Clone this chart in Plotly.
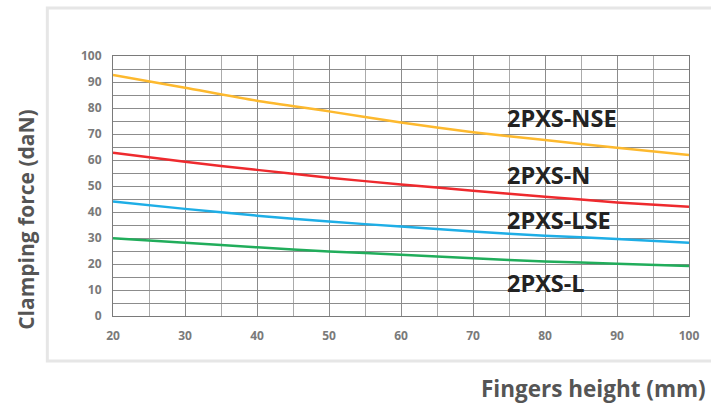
import plotly.graph_objects as go

heights = [20, 30, 40, 50, 60, 70, 80, 90, 100]
nse = [92.7, 87.8, 82.8, 78.7, 74.4, 70.7, 67.7, 64.7, 61.9]
n = [62.8, 59.3, 56.2, 53.2, 50.6, 48.2, 45.9, 43.7, 42.0]
lse = [44.0, 41.2, 38.6, 36.3, 34.4, 32.5, 30.9, 29.6, 28.2]
l = [29.9, 28.2, 26.4, 24.8, 23.6, 22.2, 21.0, 20.1, 19.2]

series_names = ["2PXS-NSE", "2PXS-N", "2PXS-LSE", "2PXS-L"]
series_values = [nse, n, lse, l]
series_colors = ["#FDB92E", "#EE2A2E", "#1EAEE6", "#21AD5B"]
label_x = [74.4, 74.4, 74.4, 74.4]
label_y = [76.2, 54.3, 36.9, 12.7]

x_ticks = [20, 30, 40, 50, 60, 70, 80, 90, 100]
y_ticks = [0, 10, 20, 30, 40, 50, 60, 70, 80, 90, 100]

fig = go.Figure()
for name, vals, col in zip(series_names, series_values, series_colors):
    fig.add_trace(go.Scatter(x=heights, y=vals, mode="lines", name=name,
                             line=dict(color=col, width=2.5, shape="spline", smoothing=0.6),
                             hoverinfo="skip"))

for name, xx, yy in zip(series_names, label_x, label_y):
    fig.add_annotation(x=xx, y=yy, text=name, showarrow=False, xanchor="left", yanchor="middle",
                       font=dict(family="Open Sans", size=23.5, color="#222222", weight="bold"))

grid_col = "#8c8c8c"
fig.update_xaxes(range=[20, 100], tickvals=x_ticks, ticktext=[str(v) for v in x_ticks],
                 showgrid=True, gridcolor=grid_col, gridwidth=1,
                 minor=dict(dtick=5, tick0=20, showgrid=True, gridcolor="#ababab", gridwidth=1),
                 showline=True, linecolor="#7a7a7a", linewidth=1, mirror=True,
                 zeroline=False, ticks="", ticklabelstandoff=9,
                 tickfont=dict(family="Open Sans", size=12, color="#7a7a7a", weight="bold"))
fig.update_yaxes(range=[0, 100], tickvals=y_ticks, ticktext=[str(v) for v in y_ticks],
                 showgrid=True, gridcolor=grid_col, gridwidth=1,
                 minor=dict(dtick=5, tick0=0, showgrid=True, gridcolor=grid_col, gridwidth=1),
                 showline=True, linecolor="#7a7a7a", linewidth=1, mirror=True,
                 zeroline=False, ticks="", ticklabelstandoff=8,
                 tickfont=dict(family="Open Sans", size=12, color="#7a7a7a", weight="bold"))

# outer light frame
fig.add_shape(type="rect", xref="paper", yref="paper", x0=-0.114, x1=1.2, y0=-0.173, y1=1.185,
              line=dict(color="#e6e6e6", width=3), fillcolor="rgba(0,0,0,0)", layer="below")

fig.add_annotation(xref="paper", yref="paper", x=-0.151, y=0.37, text="Clamping force (daN)",
                   textangle=-90, showarrow=False, xanchor="center", yanchor="middle",
                   font=dict(family="Open Sans", size=21, color="#555555", weight="bold"))
fig.add_annotation(xref="paper", yref="paper", x=1.033, y=-0.277, text="Fingers height (mm)",
                   showarrow=False, xanchor="right", yanchor="middle",
                   font=dict(family="Open Sans", size=22.5, color="#555555", weight="bold"))

fig.update_layout(width=711, height=407, margin=dict(l=113, r=19, t=56, b=91),
                  paper_bgcolor="white", plot_bgcolor="white", showlegend=False)

fig.write_html("out.html", config={"displayModeBar": False},
               post_script="document.body.style.margin='0';document.body.style.overflow='hidden';")
